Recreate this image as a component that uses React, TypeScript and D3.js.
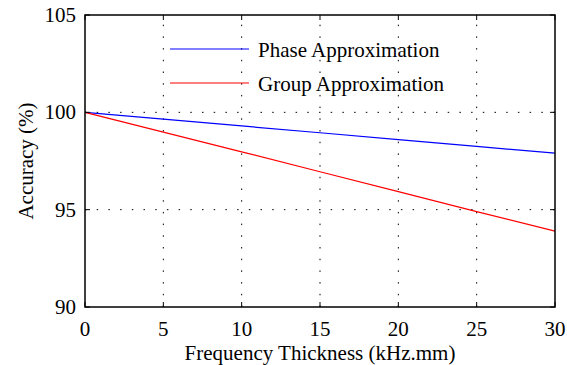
import React from "react";
import * as d3 from "d3";

const thickness = [0, 5, 10, 15, 20, 25, 30];
const phaseAccuracy = [100, 99.65, 99.3, 98.95, 98.6, 98.25, 97.9];
const groupAccuracy = [100, 98.98, 97.97, 96.95, 95.93, 94.9, 93.9];
const xTicks = [0, 5, 10, 15, 20, 25, 30];
const yTicks = [90, 95, 100, 105];
const seriesNames = ["Phase Approximation", "Group Approximation"];
const seriesColors = ["#0000ff", "#ff0000"];

const W = 567;
const H = 365;
const margin = { top: 15, right: 12, bottom: 58, left: 85 };
const font = "'Liberation Serif', 'Times New Roman', serif";
const fs = 21;

export default function App() {
  const x = d3.scaleLinear().domain([0, 30]).range([margin.left, W - margin.right]);
  const y = d3.scaleLinear().domain([90, 105]).range([H - margin.bottom, margin.top]);
  const line = d3
    .line<number>()
    .x((_, i) => x(thickness[i]))
    .y((d) => y(d));
  const series = [phaseAccuracy, groupAccuracy];
  const [x0, x1] = x.range();
  const [y0, y1] = y.range();
  const tick = 5;

  return (
    <svg
      width={W}
      height={H}
      style={{ position: "absolute", left: 0, top: 0, background: "#fff" }}
      fontFamily={font}
    >
      {/* dotted grid */}
      {xTicks.slice(1, -1).map((t) => (
        <line key={"gx" + t} x1={x(t)} x2={x(t)} y1={y0} y2={y1} stroke="#000" strokeWidth={1} strokeDasharray="1.5,10.2" />
      ))}
      {yTicks.slice(1, -1).map((t) => (
        <line key={"gy" + t} x1={x0} x2={x1} y1={y(t)} y2={y(t)} stroke="#000" strokeWidth={1} strokeDasharray="1.5,10.2" />
      ))}

      {series.map((s, i) => (
        <path key={i} d={line(s) || ""} fill="none" stroke={seriesColors[i]} strokeWidth={1.2} />
      ))}

      {/* legend */}
      {seriesNames.map((n, i) => (
        <g key={n} transform={`translate(170, ${49 + i * 34})`}>
          <line x1={0} x2={79} y1={0} y2={0} stroke={seriesColors[i]} strokeWidth={1.2} />
          <text x={88} y={8} fontSize={fs}>
            {n}
          </text>
        </g>
      ))}

      {/* frame + ticks */}
      <rect x={x0} y={y1} width={x1 - x0} height={y0 - y1} fill="none" stroke="#000" strokeWidth={1.5} />
      {xTicks.map((t) => (
        <g key={"tx" + t}>
          <line x1={x(t)} x2={x(t)} y1={y0} y2={y0 - tick} stroke="#000" />
          <line x1={x(t)} x2={x(t)} y1={y1} y2={y1 + tick} stroke="#000" />
          <text x={x(t)} y={y0 + 29} fontSize={fs} textAnchor="middle">
            {t}
          </text>
        </g>
      ))}
      {yTicks.map((t) => (
        <g key={"ty" + t}>
          <line x1={x0} x2={x0 + tick} y1={y(t)} y2={y(t)} stroke="#000" />
          <line x1={x1} x2={x1 - tick} y1={y(t)} y2={y(t)} stroke="#000" />
          <text x={x0 - 9} y={y(t) + 7} fontSize={fs} textAnchor="end">
            {t}
          </text>
        </g>
      ))}

      <text x={(x0 + x1) / 2} y={360} fontSize={fs} textAnchor="middle">
        Frequency Thickness (kHz.mm)
      </text>
      <text transform={`translate(33, ${(y0 + y1) / 2}) rotate(-90)`} fontSize={fs} textAnchor="middle">
        Accuracy (%)
      </text>
    </svg>
  );
}
